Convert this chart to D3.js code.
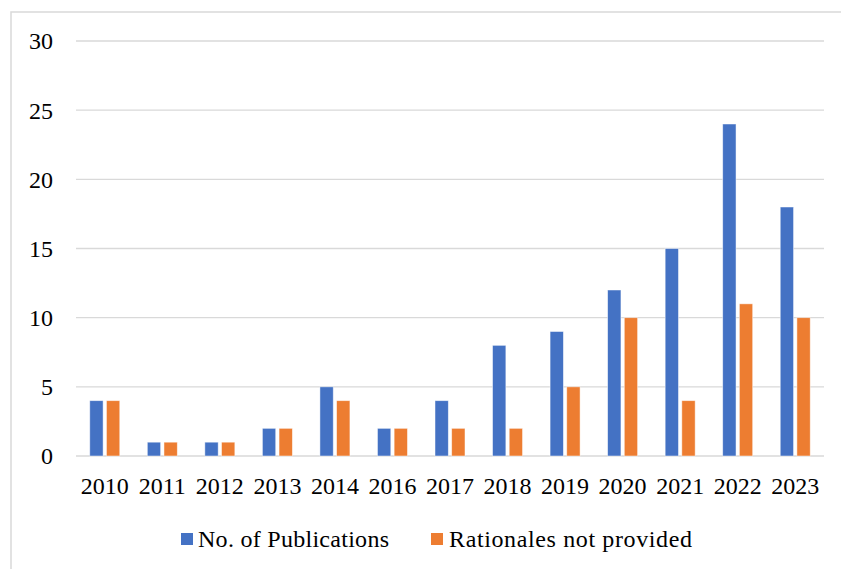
<!DOCTYPE html>
<html><head><meta charset="utf-8">
<script src="https://cdn.jsdelivr.net/npm/d3@7"></script>
<style>html,body{margin:0;padding:0;background:#fff;}svg{display:block;}</style>
</head><body>
<svg id="chart" width="841" height="569"></svg>
<script>
const years = ["2010","2011","2012","2013","2014","2016","2017","2018","2019","2020","2021","2022","2023"];
const publications = [4,1,1,2,5,2,4,8,9,12,15,24,18];
const notProvided = [4,1,1,2,4,2,2,2,5,10,4,11,10];
const seriesNames = ["No. of Publications","Rationales not provided"];
const seriesColors = ["#4472C4","#ED7D31"];
const yTicks = [0,5,10,15,20,25,30];

(function(){
const svg = d3.select("#chart");
const font = "'Liberation Serif', 'Times New Roman', serif";
const pLeft = 76, pRight = 824, pTop = 41, pBottom = 456;

// chart border (top & left visible)
svg.append("path").attr("d","M11,569 V12 H841").attr("fill","none").attr("stroke","#d9d9d9").attr("stroke-width",1.5);

const x0 = d3.scaleBand().domain(years).range([pLeft,pRight]).padding(0);
const y = d3.scaleLinear().domain([0,30]).range([pBottom,pTop]);

// gridlines
svg.append("g").selectAll("line").data(yTicks).join("line")
  .attr("x1",pLeft).attr("x2",pRight)
  .attr("y1",d=>y(d)).attr("y2",d=>y(d))
  .attr("stroke","#d9d9d9").attr("stroke-width",1.3);

// y labels
svg.append("g").selectAll("text").data(yTicks).join("text")
  .attr("x",53).attr("y",d=>y(d)).attr("dy","0.35em")
  .attr("text-anchor","end").attr("font-family",font).attr("font-size",24).attr("fill","#000")
  .text(d=>d);

// x labels
svg.append("g").selectAll("text").data(years).join("text")
  .attr("x",d=>x0(d)+x0.bandwidth()/2).attr("y",494)
  .attr("text-anchor","middle").attr("font-family",font).attr("font-size",24).attr("fill","#000")
  .text(d=>d);

// bars
const data = years.map((yr,i)=>({year:yr, vals:[publications[i], notProvided[i]]}));
const groupW = 30;
const x1 = d3.scaleBand().domain([0,1]).range([0,groupW]).paddingInner(0.2);
const g = svg.append("g").selectAll("g").data(data).join("g")
  .attr("transform",d=>`translate(${x0(d.year)+x0.bandwidth()/2-groupW/2},0)`);
g.selectAll("rect").data(d=>d.vals.map((v,k)=>({k,v}))).join("rect")
  .attr("x",d=>x1(d.k)).attr("width",x1.bandwidth())
  .attr("y",d=>y(d.v)).attr("height",d=>pBottom-y(d.v))
  .attr("fill",d=>seriesColors[d.k])
  .attr("stroke","#ffffff").attr("stroke-opacity",0.6).attr("stroke-width",0.8);

// legend
const legendItems = [{x:181, tx:198, w:191},{x:431, tx:449, w:243}];
const lg = svg.append("g").selectAll("g").data(seriesNames).join("g");
lg.append("rect").attr("x",(d,i)=>legendItems[i].x).attr("y",533).attr("width",12).attr("height",12)
  .attr("fill",(d,i)=>seriesColors[i]);
lg.append("text").attr("x",(d,i)=>legendItems[i].tx).attr("y",547)
  .attr("textLength",(d,i)=>legendItems[i].w).attr("lengthAdjust","spacing")
  .attr("font-family",font).attr("font-size",24).attr("fill","#000").text(d=>d);
})();
</script>
</body></html>
